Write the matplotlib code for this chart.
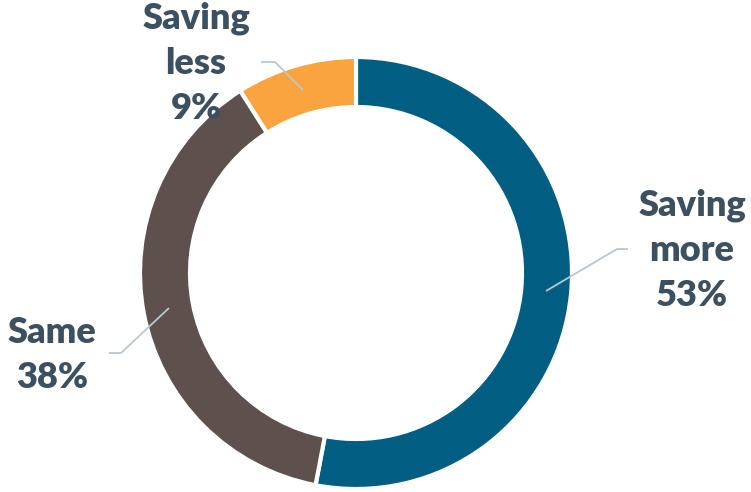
import matplotlib
matplotlib.use("Agg")
import matplotlib.pyplot as plt

categories = ["Saving\nmore", "Same", "Saving\nless"]
values = [53, 38, 9]
colors = ["#005E82", "#5E514D", "#F9A43E"]

W, H = 751, 492
fig = plt.figure(figsize=(W / 100, H / 100), dpi=100)
ax = fig.add_axes([0, 0, 1, 1])

cx, cy = 356, H - 273
radius = 216
ring = 50

ax.pie(values, colors=colors, startangle=90, counterclock=False,
       center=(cx, cy), radius=radius, frame=True,
       wedgeprops=dict(width=ring, edgecolor="white", linewidth=3))
ax.set_xlim(0, W)
ax.set_ylim(0, H)
ax.set_aspect("equal")
ax.axis("off")

text_color = "#3D5060"
line_color = "#B9C7D2"

# label text centre and leader line (start on ring, elbow, end) in pixel coords
label_pos = [(692, 250), (52, 355), (196, 63)]
leaders = [
    [(546, 291), (617, 249), (628, 249)],
    [(169, 308), (121, 353), (109, 353)],
    [(303, 90), (275, 62), (261, 62)],
]

for cat, val, (tx, ty), pts in zip(categories, values, label_pos, leaders):
    xs = [p[0] for p in pts]
    ys = [H - p[1] for p in pts]
    ax.plot(xs, ys, color=line_color, lw=1.3, solid_capstyle="butt", zorder=3)
    ax.text(tx, H - ty, f"{cat}\n{val}%", ha="center", va="center",
            fontsize=26, fontweight="heavy", family="Lato", color=text_color,
            linespacing=1.45, zorder=4)

fig.savefig("out.png", dpi=100)
